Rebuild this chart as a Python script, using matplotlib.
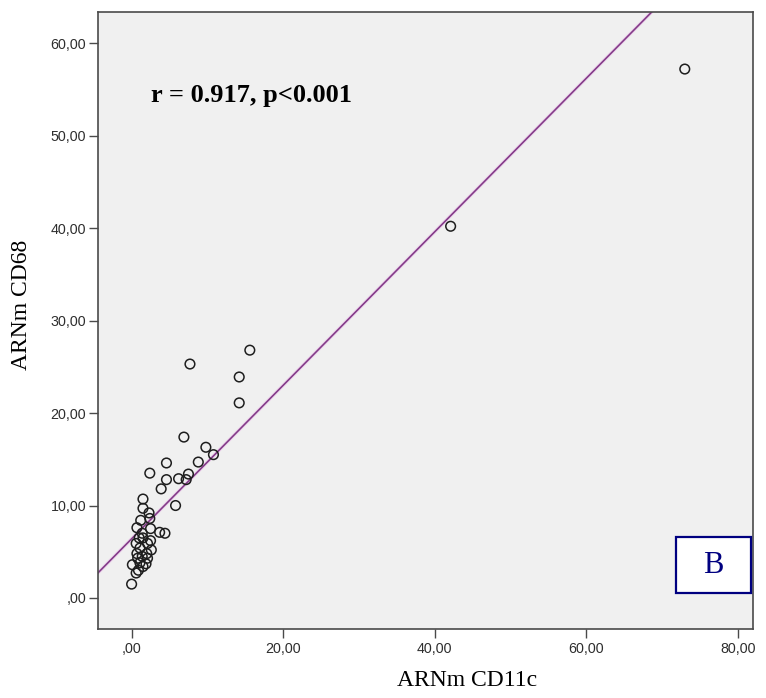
import matplotlib
matplotlib.use("Agg")
import matplotlib.pyplot as plt
from matplotlib.patches import Rectangle
from matplotlib.ticker import FuncFormatter

# ARNm CD11c vs ARNm CD68 expression, one circle per sample
cd11c = [73.0, 42.1, 15.6, 7.7, 14.2, 14.2, 6.9, 9.8, 10.8, 4.6,
         8.8, 2.4, 7.5, 4.6, 6.2, 7.2, 3.9, 5.8, 1.5, 1.5,
         2.3, 2.4, 1.2, 0.7, 2.5, 3.7, 4.4, 1.4, 1.5, 0.6,
         2.1, 1.1, 0.7, 2.0, 0.8, 2.1, 1.1, 1.9, 0.1, 1.5,
         0.6, 0.0, 1.0, 2.5, 1.4, 2.6, 0.9]
cd68 = [57.2, 40.2, 26.8, 25.3, 23.9, 21.1, 17.4, 16.3, 15.5, 14.6,
        14.7, 13.5, 13.4, 12.8, 12.9, 12.8, 11.8, 10.0, 10.7, 9.7,
        9.2, 8.6, 8.4, 7.6, 7.5, 7.1, 7.0, 7.0, 6.5, 5.9,
        5.9, 5.4, 4.8, 4.8, 4.3, 4.3, 3.8, 3.7, 3.6, 3.4,
        2.7, 1.5, 6.5, 6.2, 4.5, 5.2, 3.0]

# fit line as reported by the stats package
fit_intercept = 6.40
fit_slope = 0.83
stats_label = "r = 0.917, p<0.001"
panel_label = "B"

x_ticks = [0, 20, 40, 60, 80]
y_ticks = [0, 10, 20, 30, 40, 50, 60]


def comma_fmt(v, pos=None):
    s = f"{v:.2f}".replace(".", ",")
    if s.startswith("0,"):
        s = s[1:]
    return s


fig = plt.figure(figsize=(7.66, 6.98), dpi=100)
ax = fig.add_axes([0.1273, 0.0989, 0.8557, 0.8843])
ax.set_facecolor("#f0f0f0")

ax.axline((0, fit_intercept), slope=fit_slope, color="#ebd0eb", lw=2.4, zorder=1)
ax.axline((0, fit_intercept), slope=fit_slope, color="#823a87", lw=1.15, zorder=2)
ax.scatter(cd11c, cd68, s=48, facecolors="none", edgecolors="#1e1e1e",
           linewidths=1.1, zorder=3)

ax.set_xlim(-4.5, 82.0)
ax.set_ylim(-3.35, 63.4)
ax.set_xticks(x_ticks)
ax.set_yticks(y_ticks)
ax.xaxis.set_major_formatter(FuncFormatter(comma_fmt))
ax.yaxis.set_major_formatter(FuncFormatter(comma_fmt))

for side in ax.spines.values():
    side.set_color("#4a4a4a")
    side.set_linewidth(1.2)
ax.tick_params(axis="both", direction="out", length=6.7, width=1.0,
               color="#4a4a4a", labelcolor="#2e2e2e", labelsize=10.3)
ax.tick_params(axis="x", pad=3)
ax.tick_params(axis="y", pad=1.5)
for lab in ax.get_xticklabels() + ax.get_yticklabels():
    lab.set_family("Liberation Sans")

serif = "Liberation Serif"
fig.text(467 / 766, 1 - 681 / 698, "ARNm CD11c", family=serif, fontsize=17,
         ha="center", va="center")
fig.text(22 / 766, 1 - 305 / 698, "ARNm CD68", family=serif, fontsize=17,
         ha="center", va="center", rotation=90)

ax.text(0.081, 0.854, stats_label, transform=ax.transAxes, family=serif,
        fontsize=19, fontweight="bold", ha="left", va="baseline")

ax.add_patch(Rectangle((0.882, 0.0578), 0.1144, 0.0907, transform=ax.transAxes,
                       facecolor="white", edgecolor="#000080", lw=1.6, zorder=4))
ax.text(0.939, 0.1032, panel_label, transform=ax.transAxes, family=serif,
        fontsize=22, color="#000080", ha="center", va="center", zorder=5)

fig.savefig("out.png", dpi=100)
